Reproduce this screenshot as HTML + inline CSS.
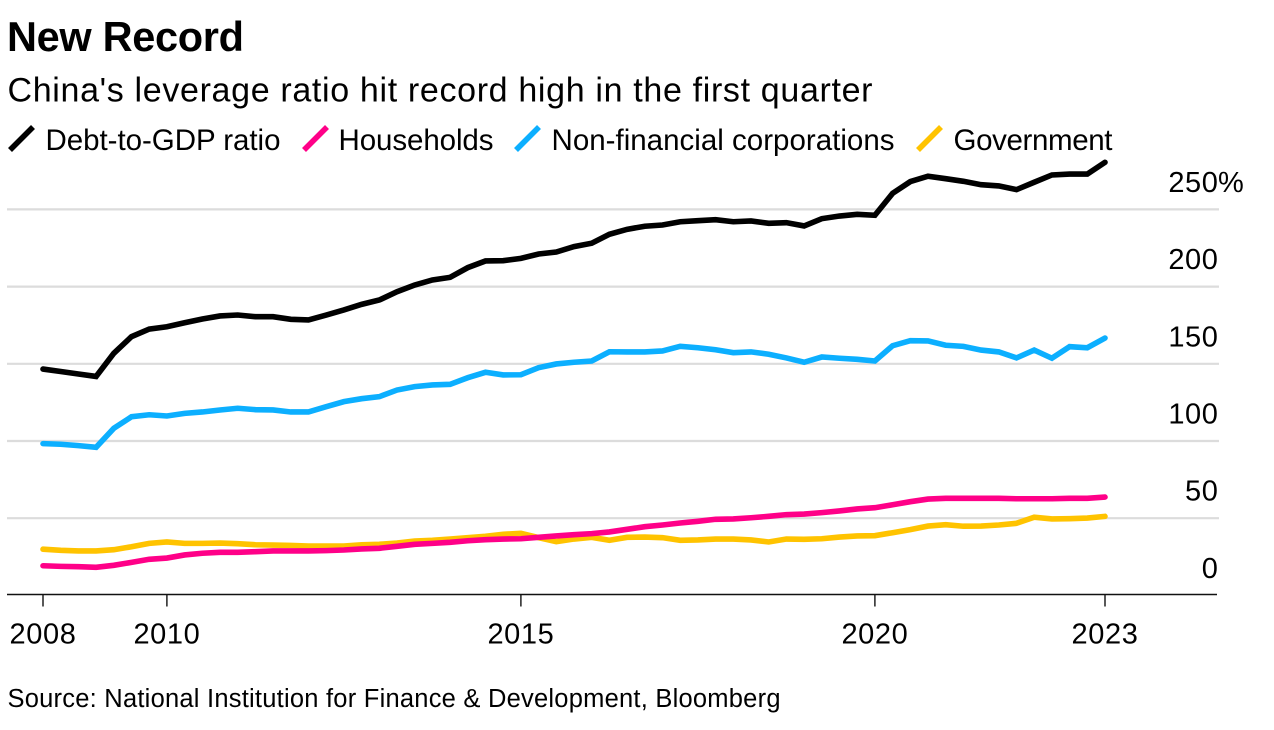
<!DOCTYPE html>
<html lang="en">
<head>
<meta charset="utf-8">
<title>New Record</title>
<style>
html,body{margin:0;padding:0;background:#fff;width:1274px;height:730px;overflow:hidden}
svg{display:block;font-family:"Liberation Sans",Arial,sans-serif;fill:#000}
</style>
</head>
<body>
<svg id="chart" xmlns="http://www.w3.org/2000/svg" width="1274" height="730" viewBox="0 0 1274 730">
  <rect x="0" y="0" width="1274" height="730" fill="#fff"/>
  <text x="7" y="51" font-size="41.5" font-weight="700" textLength="237" lengthAdjust="spacing">New Record</text>
  <text x="7.5" y="101.5" font-size="34" textLength="865" lengthAdjust="spacing">China's leverage ratio hit record high in the first quarter</text>
  <g font-size="29.5">
    <g>
      <line x1="10" y1="150" x2="33" y2="127" stroke="#000" stroke-width="5.6"/>
      <text x="45.5" y="150" textLength="235" lengthAdjust="spacing">Debt-to-GDP ratio</text>
    </g>
    <g>
      <line x1="304" y1="150" x2="327" y2="127" stroke="#ff0088" stroke-width="5.6"/>
      <text x="338.5" y="150" textLength="155" lengthAdjust="spacing">Households</text>
    </g>
    <g>
      <line x1="516" y1="150" x2="539" y2="127" stroke="#0cafff" stroke-width="5.6"/>
      <text x="551.5" y="150" textLength="343" lengthAdjust="spacing">Non-financial corporations</text>
    </g>
    <g>
      <line x1="918" y1="150" x2="941" y2="127" stroke="#ffc300" stroke-width="5.6"/>
      <text x="953.5" y="150" textLength="159" lengthAdjust="spacing">Government</text>
    </g>
  </g>
  <g id="grid"></g>
  <g id="series"></g>
  <g id="yticks" font-size="29" letter-spacing="0.6"></g>
  <g id="xaxis" font-size="29" letter-spacing="0.6"></g>
  <text x="7.5" y="707" font-size="25.5" textLength="773" lengthAdjust="spacing">Source: National Institution for Finance &amp; Development, Bloomberg</text>
</svg>
<script>
const categories = [
  '2008Q1','2008Q2','2008Q3','2008Q4','2009Q1','2009Q2','2009Q3','2009Q4',
  '2010Q1','2010Q2','2010Q3','2010Q4','2011Q1','2011Q2','2011Q3','2011Q4',
  '2012Q1','2012Q2','2012Q3','2012Q4','2013Q1','2013Q2','2013Q3','2013Q4',
  '2014Q1','2014Q2','2014Q3','2014Q4','2015Q1','2015Q2','2015Q3','2015Q4',
  '2016Q1','2016Q2','2016Q3','2016Q4','2017Q1','2017Q2','2017Q3','2017Q4',
  '2018Q1','2018Q2','2018Q3','2018Q4','2019Q1','2019Q2','2019Q3','2019Q4',
  '2020Q1','2020Q2','2020Q3','2020Q4','2021Q1','2021Q2','2021Q3','2021Q4',
  '2022Q1','2022Q2','2022Q3','2022Q4','2023Q1'
];
const debtToGdp = [
  146.6,145.0,143.4,141.8,156.8,167.6,172.5,174.0,
  176.6,179.0,181.0,181.6,180.5,180.5,178.8,178.4,
  181.6,184.9,188.5,191.3,196.7,201.0,204.3,206.0,
  212.3,216.6,216.8,218.3,221.1,222.4,225.9,228.1,
  233.9,237.1,239.1,239.9,242.0,242.7,243.3,242.0,
  242.5,241.0,241.4,239.3,244.0,245.7,246.8,246.2,
  260.4,268.0,271.5,269.9,268.2,266.0,265.2,262.8,
  267.6,272.3,272.9,272.9,280.5
];
const households = [
  19.2,18.8,18.6,18.2,19.5,21.4,23.4,24.2,
  26.2,27.3,27.9,27.9,28.3,28.8,28.8,28.8,
  29.0,29.4,30.1,30.5,31.8,33.1,33.7,34.4,
  35.4,36.1,36.5,36.7,37.6,38.5,39.3,40.0,
  41.1,42.8,44.5,45.6,46.9,48.0,49.3,49.5,
  50.3,51.2,52.3,52.7,53.6,54.7,56.0,56.8,
  58.7,60.7,62.4,62.9,62.9,62.9,62.9,62.6,
  62.6,62.6,62.9,62.9,63.7
];
const nonFinancial = [
  98.3,97.9,97.0,95.9,108.2,115.7,117.0,116.2,
  117.9,118.8,120.1,121.2,120.3,120.1,118.8,118.8,
  122.2,125.5,127.4,128.7,133.0,135.2,136.3,136.7,
  141.0,144.5,142.8,142.9,147.5,149.9,151.0,151.8,
  157.8,157.7,157.7,158.3,161.3,160.4,159.1,157.2,
  157.7,156.2,153.8,151.0,154.4,153.6,152.9,151.8,
  161.7,165.0,164.8,162.0,161.3,158.9,157.7,153.8,
  158.9,153.6,161.1,160.4,166.7
];
const government = [
  29.9,29.2,28.8,28.8,29.6,31.5,33.7,34.6,
  33.7,33.7,33.9,33.5,32.8,32.6,32.4,32.0,
  32.0,32.0,32.8,33.1,33.9,35.2,35.7,36.5,
  37.4,38.3,39.6,40.2,37.4,34.8,36.5,37.6,
  35.7,37.6,37.8,37.4,35.7,35.9,36.5,36.5,
  35.9,34.6,36.5,36.3,36.7,37.8,38.5,38.7,
  40.6,42.6,44.9,45.8,44.8,44.9,45.6,46.7,
  50.6,49.5,49.7,50.1,51.2
];
const yTickValues = [0,50,100,150,200,250];
const xTickLabels = ['2008','2010','2015','2020','2023'];
const xTickCategories = ['2008Q1','2009Q4','2014Q4','2019Q4','2023Q1'];

const SVG_NS = 'http://www.w3.org/2000/svg';
function xScale(index){ return 43 + (index / (categories.length - 1)) * 1062; }
function yScale(value){ return 595.4 - value * 1.544; }
function make(tag, attrs){
  const el = document.createElementNS(SVG_NS, tag);
  for (const k in attrs) el.setAttribute(k, attrs[k]);
  return el;
}

const gridGroup = document.getElementById('grid');
const yGroup = document.getElementById('yticks');
yTickValues.forEach(function(v){
  const y = yScale(v);
  if (v !== 0) {
    const gl = make('line', {x1:7, x2:1219, y1:y, y2:y, stroke:'#dcdcdc', 'stroke-width':2.2});
    
    
    gridGroup.appendChild(gl);
  }
  const label = make('text', {x:1218.5, y:y - 17.5, 'text-anchor':'end'});
  
  
  label.textContent = String(v);
  yGroup.appendChild(label);
  if (v === yTickValues[yTickValues.length - 1]) {
    const pct = make('text', {x:1218, y:y - 17.5, 'letter-spacing':0});
    
    
    pct.textContent = '%';
    yGroup.appendChild(pct);
  }
});

function drawSeries(values, color, name){
  const d = values.map(function(v, i){
    return (i ? 'L' : 'M') + xScale(i).toFixed(2) + ' ' + yScale(v).toFixed(2);
  }).join('');
  const path = make('path', {d:d, fill:'none', stroke:color, 'stroke-width':5.6, 'stroke-linecap':'round', 'stroke-linejoin':'miter'});
  
  
  document.getElementById('series').appendChild(path);
}
drawSeries(government, '#ffc300', 'line-government');
drawSeries(households, '#ff0088', 'line-households');
drawSeries(nonFinancial, '#0cafff', 'line-non-financial');
drawSeries(debtToGdp, '#000000', 'line-debt-to-gdp');

const xGroup = document.getElementById('xaxis');
const axisLine = make('line', {x1:7, x2:1217, y1:594.5, y2:594.5, stroke:'#111', 'stroke-width':1.6});


xGroup.appendChild(axisLine);
xTickLabels.forEach(function(text, i){
  const x = xScale(categories.indexOf(xTickCategories[i]));
  const tick = make('line', {x1:x, x2:x, y1:594.5, y2:606.5, stroke:'#111', 'stroke-width':1.4});
  
  
  xGroup.appendChild(tick);
  const label = make('text', {x:x, y:643.5, 'text-anchor':'middle'});
  
  
  label.textContent = text;
  xGroup.appendChild(label);
});
</script>
</body>
</html>
